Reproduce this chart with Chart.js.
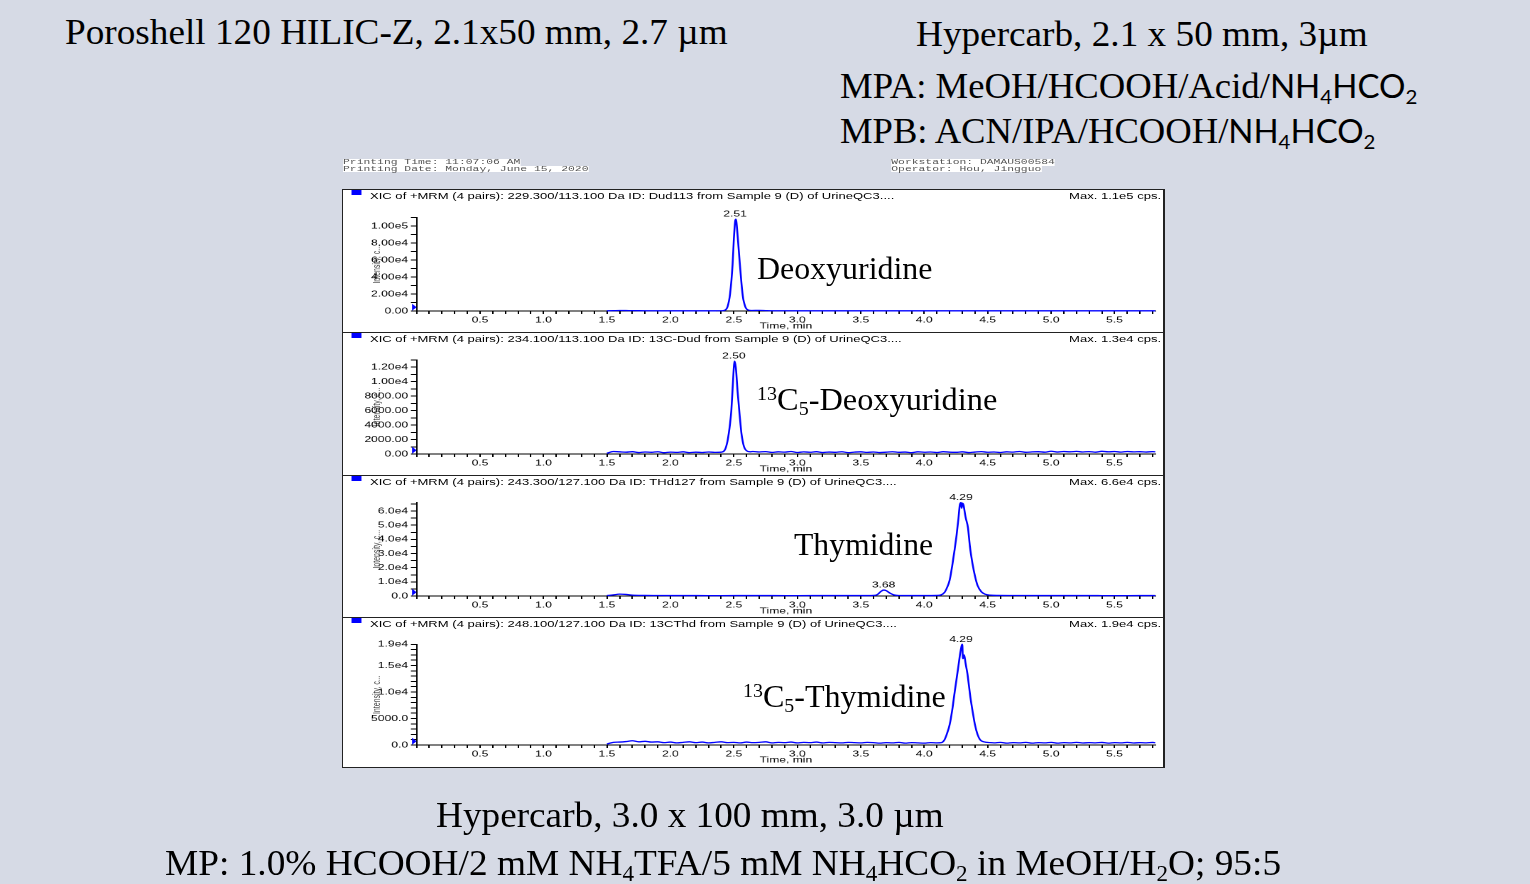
<!DOCTYPE html>
<html><head><meta charset="utf-8">
<script src="https://cdn.jsdelivr.net/npm/chart.js@4.4.1/dist/chart.umd.min.js"></script>
<style>
html,body{margin:0;padding:0}
body{width:1530px;height:884px;background:#d6dae5;position:relative;overflow:hidden}
.st{position:absolute;white-space:nowrap;transform-origin:0 0;line-height:1;color:#000;font-family:"Liberation Serif","Times New Roman",serif}
.sans{font-family:Lato,"Open Sans",sans-serif;font-size:0.9em}
sub{font-size:0.62em;vertical-align:-0.28em;line-height:0}
sup{font-size:0.62em;vertical-align:0.5em;line-height:0}
#stretch{position:absolute;left:343px;top:0;width:578px;height:884px;transform:scaleX(1.4204);transform-origin:0 0}
.hd{position:absolute;left:0;width:578px;height:10px;font:9.2px/10px "Liberation Sans",Arial,sans-serif;color:#000;white-space:nowrap}
.hd .sq{position:absolute;left:6px;top:-0.5px;width:7px;height:5px;background:#0000ff}
.hd .tl{position:absolute;left:19px;top:0}
.hd .tr{position:absolute;right:2px;top:0}
.pr{position:absolute;font:8px/6.7px "Liberation Mono","Courier New",monospace;color:#555;white-space:nowrap}
.pr span{display:block;background:#fff;width:max-content}
canvas{position:absolute;left:0}
.hl{position:absolute;left:342px;width:823px;height:1px;background:#222}
#box{position:absolute;left:342px;top:189px;width:820px;height:577px;border:1px solid #222;border-right-width:2px;background:#fff}
</style></head>
<body>
<div class="st fit" data-w="663" style="left:65px;top:14px;font-size:36px">Poroshell 120 HILIC-Z, 2.1x50 mm, 2.7 µm</div>
<div class="st fit" data-w="452" style="left:916px;top:16px;font-size:36px">Hypercarb, 2.1 x 50 mm, 3µm</div>
<div class="st fit" data-w="577" style="left:840px;top:68px;font-size:36px">MPA: MeOH/HCOOH/Acid/<span class="sans">NH<sub>4</sub>HCO<sub>2</sub></span></div>
<div class="st fit" data-w="535" style="left:840px;top:113px;font-size:36px">MPB: ACN/IPA/HCOOH/<span class="sans">NH<sub>4</sub>HCO<sub>2</sub></span></div>

<div id="box"></div>
<div class="hl" style="top:332px"></div>
<div class="hl" style="top:475px"></div>
<div class="hl" style="top:617px"></div>

<div id="stretch">
  <div class="pr" style="left:0;top:159px"><span>Printing Time: 11:07:06 AM</span><span>Printing Date: Monday, June 15, 2020</span></div>
  <div class="pr" style="left:386px;top:159px"><span>Workstation: DAMAUS00584</span><span>Operator: Hou, Jingguo</span></div>

  <div class="hd" style="top:190.5px"><span class="sq"></span><span class="tl">XIC of +MRM (4 pairs): 229.300/113.100 Da ID: Dud113 from Sample 9 (D) of UrineQC3....</span><span class="tr">Max. 1.1e5 cps.</span></div>
  <div class="hd" style="top:333.5px"><span class="sq"></span><span class="tl">XIC of +MRM (4 pairs): 234.100/113.100 Da ID: 13C-Dud from Sample 9 (D) of UrineQC3....</span><span class="tr">Max. 1.3e4 cps.</span></div>
  <div class="hd" style="top:476.5px"><span class="sq"></span><span class="tl">XIC of +MRM (4 pairs): 243.300/127.100 Da ID: THd127 from Sample 9 (D) of UrineQC3....</span><span class="tr">Max. 6.6e4 cps.</span></div>
  <div class="hd" style="top:618.5px"><span class="sq"></span><span class="tl">XIC of +MRM (4 pairs): 248.100/127.100 Da ID: 13CThd from Sample 9 (D) of UrineQC3....</span><span class="tr">Max. 1.9e4 cps.</span></div>

  <canvas id="c1" width="578" height="142" style="top:190px;width:578px;height:142px"></canvas>
  <canvas id="c2" width="578" height="142" style="top:333px;width:578px;height:142px"></canvas>
  <canvas id="c3" width="578" height="141" style="top:476px;width:578px;height:141px"></canvas>
  <canvas id="c4" width="578" height="148" style="top:618px;width:578px;height:148px"></canvas>
</div>

<div class="st fit" data-w="175" style="left:757px;top:253px;font-size:31px">Deoxyuridine</div>
<div class="st fit" data-w="240" style="left:757px;top:384px;font-size:31px"><sup>13</sup>C<sub>5</sub>-Deoxyuridine</div>
<div class="st fit" data-w="139" style="left:794px;top:529px;font-size:31px">Thymidine</div>
<div class="st fit" data-w="203" style="left:743px;top:681px;font-size:31px"><sup>13</sup>C<sub>5</sub>-Thymidine</div>

<div class="st fit" data-w="508" style="left:436px;top:797px;font-size:36px">Hypercarb, 3.0 x 100 mm, 3.0 µm</div>
<div class="st fit" data-w="1116" style="left:165px;top:845px;font-size:36px">MP: 1.0% HCOOH/2 mM NH<sub>4</sub>TFA/5 mM NH<sub>4</sub>HCO<sub>2</sub> in MeOH/H<sub>2</sub>O; 95:5</div>

<script>
// ---------------- DATA ----------------
const xMaxMin = 5.82;
const xTickLabelsEvery = 0.5;

// Panel 1: Deoxyuridine (Dud113)
const t1 = [1.50,1.55,1.60,1.65,1.70,1.75,1.80,1.90,2.00,2.10,2.20,2.30,2.36,2.40,2.43,2.45,2.47,2.49,2.50,2.51,2.515,2.52,2.53,2.55,2.57,2.59,2.61,2.64,2.70,2.76,2.85,3.00,3.20,3.40,3.60,3.80,4.00,4.20,4.40,4.60,4.80,5.00,5.20,5.40,5.60,5.82];
const i1 = [200,400,600,500,450,350,300,250,250,200,200,220,250,300,1000,5000,20000,55000,85000,105000,108000,105000,88000,50000,18000,5000,1300,600,700,450,300,250,250,230,250,240,250,230,250,240,230,250,240,230,250,240];
const yMax1 = 110000;
const yTicks1 = [0,20000,40000,60000,80000,100000];
const yLabels1 = ['0.00','2.00e4','4.00e4','6.00e4','8.00e4','1.00e5'];
const peaks1 = [2.51];

// Panel 2: 13C5-Deoxyuridine (13C-Dud)
const t2 = [1.50,1.55,1.60,1.65,1.70,1.75,1.80,1.85,1.90,1.95,2.00,2.05,2.10,2.15,2.20,2.25,2.30,2.35,2.40,2.43,2.45,2.47,2.48,2.49,2.50,2.505,2.515,2.53,2.545,2.56,2.58,2.60,2.63,
  2.65,2.70,2.75,2.80,2.85,2.90,2.95,3.00,3.05,3.10,3.15,3.20,3.25,3.30,3.35,3.40,3.45,3.50,3.55,3.60,3.65,3.70,3.75,3.80,3.85,3.90,3.95,4.00,4.05,4.10,4.15,4.20,4.25,4.30,4.35,4.40,4.45,4.50,4.55,4.60,4.65,4.70,4.75,4.80,4.85,4.90,4.95,5.00,5.05,5.10,5.15,5.20,5.25,5.30,5.35,5.40,5.45,5.50,5.55,5.60,5.65,5.70,5.75,5.80,5.82];
const i2 = [100,350,300,250,320,200,280,230,310,180,260,220,300,190,250,210,280,220,250,600,1800,4200,6000,9000,12000,12800,12000,8500,5500,2800,1000,450,300,
  350,280,330,220,300,260,340,210,290,240,320,200,270,230,310,190,260,300,220,280,200,250,310,230,270,190,300,240,280,210,320,250,230,300,200,270,330,240,280,210,300,260,350,230,290,320,250,380,270,340,300,360,280,330,250,370,300,340,260,350,290,320,270,330,300];
const yMax2 = 13000;
const yTicks2 = [0,2000,4000,6000,8000,10000,12000];
const yLabels2 = ['0.00','2000.00','4000.00','6000.00','8000.00','1.00e4','1.20e4'];
const peaks2 = [2.50];

// Panel 3: Thymidine (THd127)
const t3 = [1.50,1.55,1.60,1.65,1.70,1.80,1.90,2.00,2.20,2.40,2.60,2.80,3.00,3.20,3.40,3.55,3.60,3.63,3.66,3.68,3.70,3.73,3.76,3.80,3.90,4.00,4.10,4.13,4.16,4.18,4.20,4.22,4.24,4.255,4.27,4.28,4.29,4.295,4.30,4.31,4.325,4.345,4.36,4.38,4.40,4.42,4.45,4.48,4.52,4.58,4.70,4.90,5.10,5.30,5.50,5.70,5.82];
const i3 = [300,800,1300,1100,600,400,350,300,300,280,300,300,280,300,300,320,400,1000,3300,4200,3800,2000,800,350,300,300,400,700,2500,6000,11000,21000,33000,43000,55000,64000,66000,62000,65500,64000,56000,48000,35000,23000,14000,7500,3000,1300,600,400,350,300,300,300,280,300,300];
const yMax3 = 66000;
const yTicks3 = [0,10000,20000,30000,40000,50000,60000];
const yLabels3 = ['0.0','1.0e4','2.0e4','3.0e4','4.0e4','5.0e4','6.0e4'];
const peaks3 = [3.68, 4.29];

// Panel 4: 13C5-Thymidine (13CThd)
const t4 = [1.50,1.55,1.60,1.65,1.70,1.75,1.80,1.85,1.90,1.95,2.00,2.05,2.10,2.15,2.20,2.25,2.30,2.35,2.40,2.45,2.50,2.55,2.60,2.65,2.70,2.75,2.80,2.85,2.90,2.95,3.00,3.05,3.10,3.15,3.20,3.25,3.30,3.35,3.40,3.45,3.50,3.55,3.60,3.65,3.70,3.75,3.80,3.85,3.90,3.95,4.00,4.05,
  4.10,4.135,4.16,4.18,4.20,4.22,4.24,4.255,4.27,4.285,4.30,4.305,4.315,4.325,4.34,4.365,4.385,4.40,4.42,4.44,4.47,4.52,
  4.55,4.60,4.65,4.70,4.75,4.80,4.85,4.90,4.95,5.00,5.05,5.10,5.15,5.20,5.25,5.30,5.35,5.40,5.45,5.50,5.55,5.60,5.65,5.70,5.75,5.80,5.82];
const i4 = [200,500,550,650,800,600,700,550,600,450,550,400,500,600,450,550,400,500,600,450,500,400,550,450,500,600,400,500,450,550,400,500,450,550,400,500,450,400,500,450,400,500,450,350,450,400,500,350,450,400,350,450,
  400,450,1000,2200,3800,6500,10000,12500,15000,17500,19000,16300,17000,15500,13500,8800,5800,3800,2000,1000,600,450,
  400,500,350,450,400,500,350,450,400,500,350,450,400,500,380,450,400,480,350,450,400,500,380,450,400,480,420];
const yMax4 = 19000;
const yTicks4 = [0,5000,10000,15000,19000];
const yLabels4 = ['0.0','5000.0','1.0e4','1.5e4','1.9e4'];
const peaks4 = [4.29];

// ---------------- LAYOUT ----------------
const FONT = '"Liberation Sans", Arial, sans-serif';
const AXIS_W = 51.8;   // logical px (canvas is stretched horizontally)
const X_AXIS_H = 21;

const peakPlugin = {
  id: 'peakLabels',
  afterDatasetsDraw(chart, args, opts) {
    const ctx = chart.ctx, xs = chart.scales.x, ys = chart.scales.y, ca = chart.chartArea;
    const pts = chart.data.datasets[0].data;
    ctx.save();
    ctx.font = '8.5px ' + FONT;
    ctx.fillStyle = '#000';
    ctx.textAlign = 'center';
    ctx.textBaseline = 'alphabetic';
    (opts.peaks || []).forEach(t => {
      let best = null;
      pts.forEach(p => { if (Math.abs(p.x - t) <= 0.03 && (!best || p.y > best.y)) best = p; });
      if (!best) return;
      ctx.fillText(t.toFixed(2), xs.getPixelForValue(t), ys.getPixelForValue(best.y) - 2.5);
    });
    const y0 = ys.getPixelForValue(0);
    ctx.fillStyle = '#0000ff';
    ctx.beginPath();
    ctx.moveTo(ca.left, y0 - 3.8);
    ctx.lineTo(ca.left - 3.2, y0 - 7.3);
    ctx.lineTo(ca.left - 3.2, y0 - 0.3);
    ctx.closePath();
    ctx.fill();
    ctx.restore();
  }
};

function makeChart(id, times, vals, yMax, yTicks, yLabels, minorStep, peaks, padTop) {
  const data = times.map((t, i) => ({ x: t, y: vals[i] }));
  const minor = [];
  for (let v = 0; v <= yMax + 1e-6; v += minorStep) minor.push(v);
  const allTicks = Array.from(new Set(minor.concat(yTicks))).sort((a, b) => a - b);
  return new Chart(document.getElementById(id), {
    type: 'line',
    data: { datasets: [{ data, borderColor: '#0000ff', borderWidth: 1.3, pointRadius: 0, fill: false,
      cubicInterpolationMode: 'monotone', clip: false }] },
    options: {
      responsive: false, animation: false, devicePixelRatio: 2,
      layout: { padding: { top: padTop, right: 6.2, left: 0, bottom: 0 } },
      plugins: { legend: { display: false }, tooltip: { enabled: false }, peakLabels: { peaks } },
      scales: {
        x: {
          type: 'linear', min: 0, max: xMaxMin,
          border: { display: true, color: '#000', width: 1 },
          grid: { display: true, drawOnChartArea: false, drawTicks: true, tickLength: 3, tickColor: '#000' },
          ticks: { stepSize: 0.1, autoSkip: false, maxRotation: 0, includeBounds: false, padding: 1, color: '#000',
            font: { family: FONT, size: 8.5 },
            callback: v => { const k = Math.round(v * 10); return (k > 0 && k % Math.round(xTickLabelsEvery * 10) === 0) ? (k / 10).toFixed(1) : ''; } },
          title: { display: true, text: 'Time, min', color: '#000', font: { family: FONT, size: 8.5 }, padding: { top: 0, bottom: 0.5 } },
          afterFit: s => { s.height = X_AXIS_H; }
        },
        y: {
          type: 'linear', min: 0, max: yMax,
          afterBuildTicks: s => { s.ticks = allTicks.map(v => ({ value: v })); },
          border: { display: true, color: '#000', width: 1 },
          grid: { display: true, drawOnChartArea: false, drawTicks: true, tickLength: 4, tickColor: '#000' },
          ticks: { autoSkip: false, padding: 2, color: '#000', font: { family: FONT, size: 8.5 },
            callback: v => { const idx = yTicks.findIndex(a => Math.abs(a - v) < 1e-6); return idx >= 0 ? yLabels[idx] : ''; } },
          title: { display: true, text: 'Intensity, c...', color: '#444', font: { family: FONT, size: 7 }, padding: { top: 20, bottom: 0 } },
          afterFit: s => { s.width = AXIS_W; }
        }
      }
    },
    plugins: [peakPlugin]
  });
}

makeChart('c1', t1, i1, yMax1, yTicks1, yLabels1, 10000, peaks1, 27.5);
makeChart('c2', t2, i2, yMax2, yTicks2, yLabels2, 1000, peaks2, 26.75);
makeChart('c3', t3, i3, yMax3, yTicks3, yLabels3, 5000, peaks3, 26.5);
makeChart('c4', t4, i4, yMax4, yTicks4, yLabels4, 1000, peaks4, 26.3);

// fit slide texts horizontally to their target widths
document.querySelectorAll('.fit').forEach(el => {
  const w = el.offsetWidth;
  const target = +el.dataset.w;
  if (w > 0) el.style.transform = 'scaleX(' + (target / w).toFixed(4) + ')';
});
</script>
</body></html>
